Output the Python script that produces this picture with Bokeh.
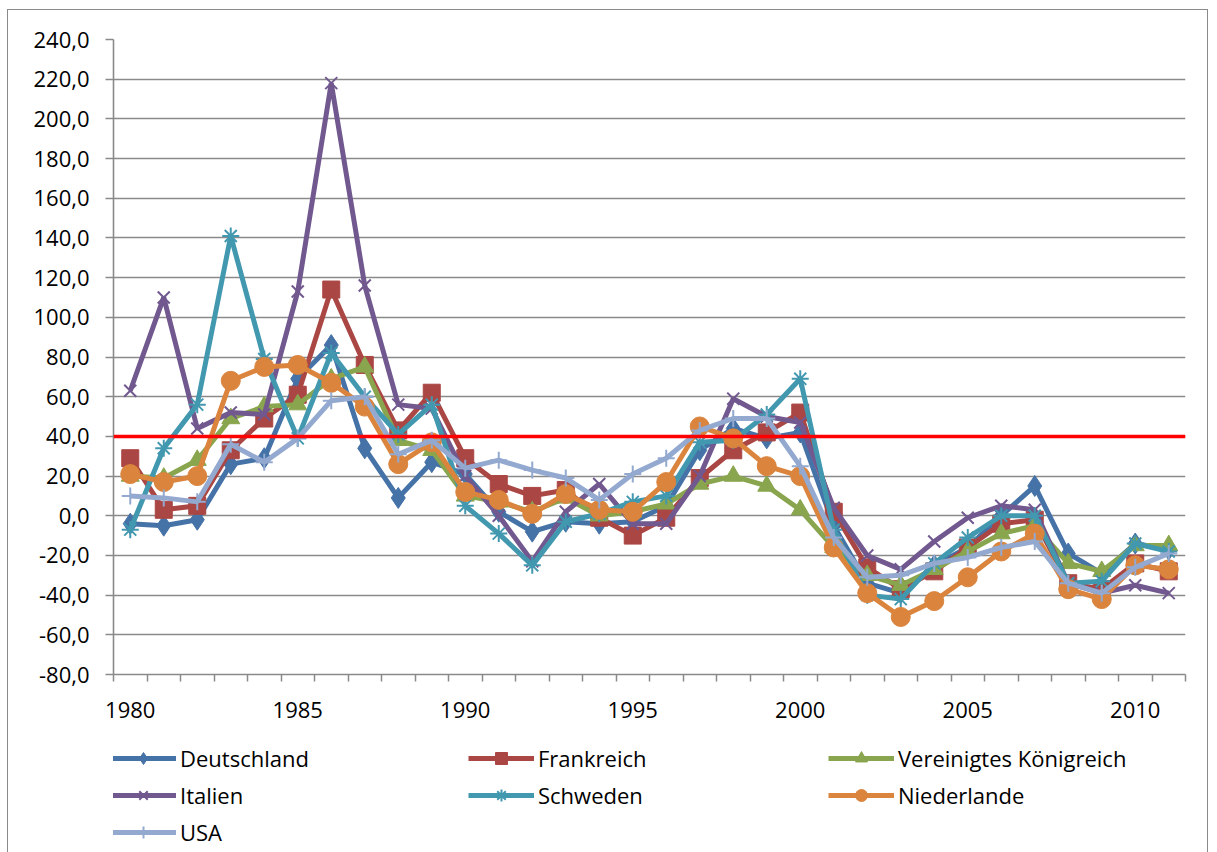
from bokeh.plotting import figure
from bokeh.layouts import column
from bokeh.models import Span, Legend, LegendItem, FixedTicker, CustomJSTickFormatter
from bokeh.embed import file_html
from bokeh.resources import INLINE

years = list(range(1980, 2012))

deutschland = [-4, -5, -2, 26, 29, 69, 86, 34, 9, 27, 21, 2, -8, -3, -4, -3, 5, 33, 44, 39,
               42, -5, -34, -39, -25, -16, 0, 15, -19, -29, -14, -17]
frankreich = [29, 3, 5, 33, 49, 61, 114, 76, 43, 62, 29, 16, 10, 13, -1, -10, -1, 19, 33, 42,
              52, 2, -26, -37, -28, -16, -4, -2, -34, -37, -24, -28]
vk = [20, 19, 28, 49, 55, 56, 69, 75, 38, 33, 10, 7, 2, 9, 0, 2, 6, 16, 20, 15,
      3, -16, -30, -35, -27, -18, -9, -5, -24, -28, -15, -15]
italien = [63, 110, 44, 52, 51, 113, 218, 116, 56, 54, 20, 0, -23, 2, 16, -4, -4, 20, 59, 50,
           47, 4, -20, -27, -13, -1, 5, 3, -34, -39, -35, -39]
schweden = [-7, 34, 56, 141, 79, 39, 82, 60, 41, 56, 5, -9, -25, -3, 1, 7, 10, 37, 38, 51,
            69, -7, -40, -42, -24, -11, 0, 0, -34, -33, -14, -18]
niederlande = [21, 17, 20, 68, 75, 76, 67, 55, 26, 37, 12, 8, 1, 11, 3, 2, 17, 45, 39, 25,
               20, -16, -39, -51, -43, -31, -18, -9, -37, -42, -25, -27]
usa = [10, 9, 7, 36, 27, 39, 58, 60, 31, 38, 24, 28, 23, 19, 8, 21, 29, 43, 49, 49,
       25, -11, -31, -30, -24, -21, -16, -13, -34, -39, -26, -19]

y_ticks = list(range(-80, 241, 20))
x_label_years = [1980, 1985, 1990, 1995, 2000, 2005, 2010]
threshold = 40

series = [
    ("Deutschland", deutschland, "#4572A7", "diamond", 21),
    ("Frankreich", frankreich, "#AA4643", "square", 17),
    ("Vereinigtes Königreich", vk, "#89A54E", "triangle", 18),
    ("Italien", italien, "#71588F", "x", 17),
    ("Schweden", schweden, "#4198AF", "asterisk", 17),
    ("Niederlande", niederlande, "#DB843D", "circle", 19),
    ("USA", usa, "#93A9CF", "cross", 17),
]
legend_columns = [[0, 3, 6], [1, 4], [2, 5]]

FONT = "Open Sans"
FS = "22px"
GRID = "#8a8a8a"
W = 1199
H_MAIN = 725
H_LEG = 117

p = figure(width=W, height=H_MAIN, output_backend="svg", toolbar_location=None,
           x_range=(min(years) - 0.5, max(years) + 0.5), y_range=(-80, 240),
           min_border_left=105, min_border_right=22, min_border_top=29, min_border_bottom=61)
p.outline_line_color = None

p.xgrid.grid_line_color = None
p.ygrid.grid_line_color = GRID
p.ygrid.grid_line_width = 1.6

p.xaxis.ticker = FixedTicker(ticks=x_label_years,
                             minor_ticks=[y - 0.5 for y in years] + [max(years) + 0.5])
p.xaxis.major_tick_line_color = None
p.xaxis.minor_tick_line_color = GRID
p.xaxis.minor_tick_out = 7
p.xaxis.minor_tick_in = 0
p.xaxis.minor_tick_line_width = 1.5
p.xaxis.axis_line_color = GRID
p.xaxis.axis_line_width = 1.6
p.xaxis.major_label_standoff = 20
p.xaxis.major_label_text_font = FONT
p.xaxis.major_label_text_font_size = FS
p.xaxis.major_label_text_color = "black"

p.yaxis.ticker = FixedTicker(ticks=y_ticks)
p.yaxis.formatter = CustomJSTickFormatter(code="return tick.toFixed(1).replace('.', ',');")
p.yaxis.axis_line_color = GRID
p.yaxis.axis_line_width = 1.6
p.yaxis.major_tick_line_color = GRID
p.yaxis.major_tick_line_width = 1.5
p.yaxis.major_tick_out = 8
p.yaxis.major_tick_in = 0
p.yaxis.minor_tick_line_color = None
p.yaxis.major_label_standoff = 16
p.yaxis.major_label_text_font = FONT
p.yaxis.major_label_text_font_size = FS
p.yaxis.major_label_text_color = "black"

# legend strip (second figure holding look-alike glyphs for the legend, kept out of view)
pl = figure(width=W, height=H_LEG, output_backend="svg", toolbar_location=None,
            x_range=(0, 1), y_range=(0, 1), min_border=0,
            x_axis_type=None, y_axis_type=None)
pl.outline_line_color = None
pl.grid.visible = False


def add_series(fig, xs, vals, color, marker, size):
    r1 = fig.line(xs, vals, line_color=color, line_width=5)
    if marker in ("x", "asterisk", "cross"):
        r2 = fig.scatter(xs, vals, marker=marker, size=size, line_color=color,
                         line_width=2, fill_color=color)
    else:
        r2 = fig.scatter(xs, vals, marker=marker, size=size, line_color=color,
                         fill_color=color, line_width=1)
    return r1, r2


items = []
for name, vals, color, marker, size in series:
    add_series(p, years, vals, color, marker, size)
    r1, r2 = add_series(pl, [-5, -4], [-5, -5], color, marker, size)
    items.append(LegendItem(label=name, renderers=[r1, r2]))

p.add_layout(Span(location=threshold, dimension="width", line_color="#FF0000", line_width=3.5))

col_x = [-3, 355, 715]
for ci, idxs in enumerate(legend_columns):
    n = len(idxs)
    h = 30 * n + 7 * (n - 1)
    lg = Legend(items=[items[i] for i in idxs], location=(col_x[ci], H_LEG - 8 - h),
                label_text_font=FONT, label_text_font_size=FS, label_text_color="black",
                glyph_width=66, glyph_height=30, label_height=30, label_standoff=4,
                spacing=7, padding=0, margin=0, border_line_color=None,
                background_fill_alpha=0)
    pl.add_layout(lg, "center")

layout = column(p, pl, spacing=0, margin=(9, 0, 0, 7),
                styles={"border-top": "1px solid #8a8a8a", "border-left": "1px solid #8a8a8a",
                        "border-right": "1px solid #8a8a8a"})

open("out.html", "w").write(file_html(layout, INLINE))
